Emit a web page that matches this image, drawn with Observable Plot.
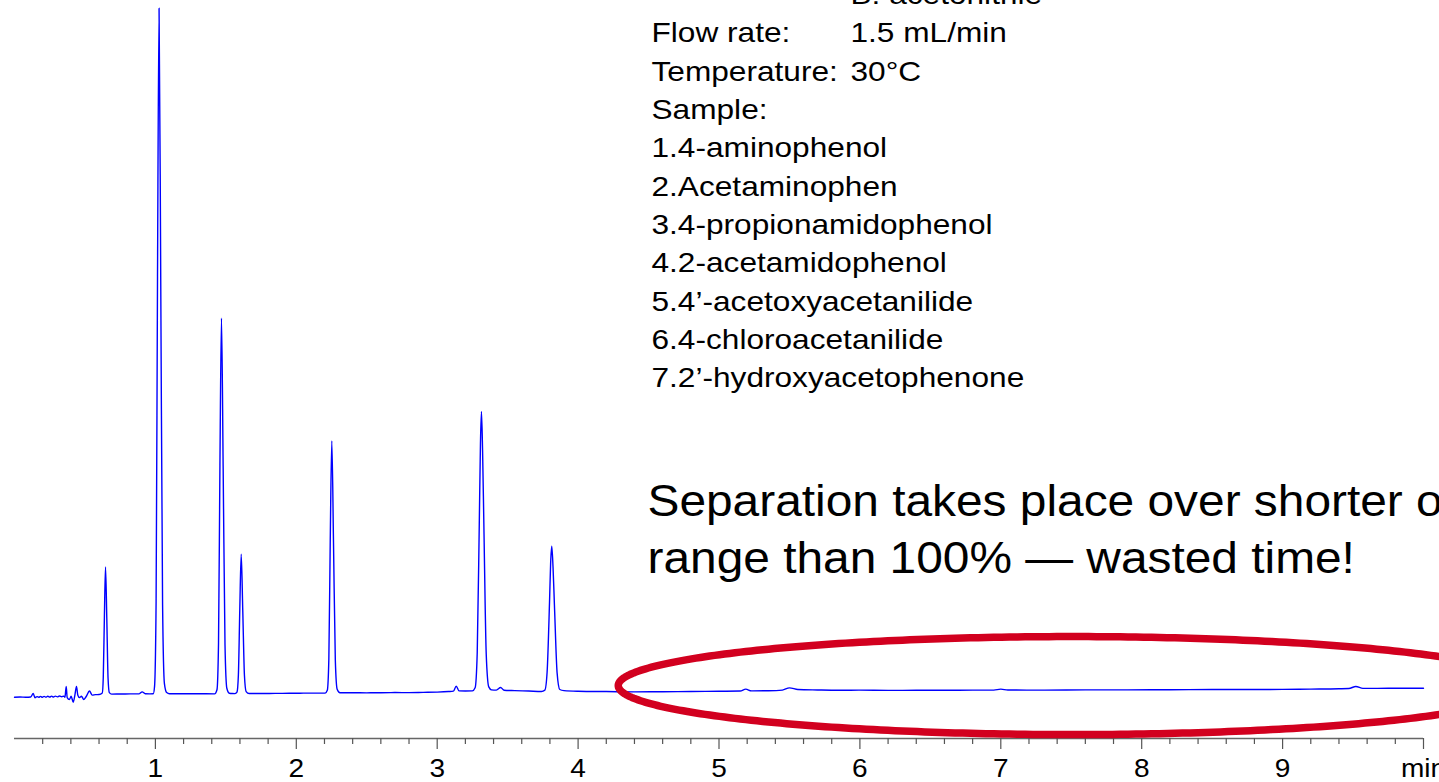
<!DOCTYPE html>
<html>
<head>
<meta charset="utf-8">
<script src="https://cdn.jsdelivr.net/npm/d3@7"></script>
<script src="https://cdn.jsdelivr.net/npm/@observablehq/plot@0.6"></script>
<style>
  html, body { margin: 0; padding: 0; background: #fff; overflow: hidden; }
  #chart svg { display: block; }
</style>
</head>
<body>
<div id="chart"></div>
<script>
// Retention time (min) and detector signal (mAU) of the UV trace
const time = [
  0, 0.04, 0.08, 0.115, 0.133, 0.145, 0.16, 0.172, 0.185, 0.198, 0.21, 0.223, 0.236, 0.25, 0.263, 0.277, 0.29, 0.305, 0.32, 0.335, 0.35,
  0.358, 0.367, 0.374, 0.39, 0.402, 0.417, 0.428, 0.44, 0.449, 0.462, 0.475, 0.492, 0.51, 0.532, 0.552, 0.575, 0.60,
  0.623, 0.630, 0.638, 0.646, 0.655, 0.664, 0.673, 0.69,
  0.75, 0.82, 0.885, 0.906, 0.928, 0.96, 0.985,
  0.994, 1.005, 1.015, 1.026, 1.038, 1.051, 1.064, 1.08, 1.10,
  1.2, 1.3, 1.42,
  1.437, 1.448, 1.458, 1.469, 1.481, 1.494, 1.507, 1.525, 1.545, 1.565,
  1.579, 1.589, 1.599, 1.609, 1.620, 1.632, 1.644, 1.665,
  1.75, 1.85, 1.95, 2.05, 2.15, 2.205,
  2.220, 2.231, 2.241, 2.252, 2.264, 2.277, 2.290, 2.31,
  2.4, 2.5, 2.6, 2.7, 2.8, 2.9, 3.0, 3.08, 3.115, 3.135, 3.155, 3.2, 3.25,
  3.269, 3.284, 3.299, 3.307, 3.314, 3.322, 3.331, 3.348, 3.366, 3.385,
  3.42, 3.45, 3.475, 3.55, 3.65, 3.74,
  3.764, 3.780, 3.797, 3.805, 3.813, 3.822, 3.832, 3.851, 3.870, 3.9,
  4.0, 4.2, 4.4, 4.6, 4.8, 5.0, 5.15, 5.19, 5.23, 5.35, 5.45, 5.5, 5.56, 5.7, 5.85,
  6.0, 6.2, 6.4, 6.6, 6.8, 6.95, 7.0, 7.05, 7.3, 7.6, 7.9, 8.2, 8.5, 8.8,
  9.0, 9.2, 9.4, 9.47, 9.52, 9.57, 9.75, 10.0
];
const signal = [
  -6.5, -6.2, -6.6, -6.2, -0.8, -7.2, -5.6, -6.6, -5.2, -6.6, -5.2, -6.4, -5.0, -6.3, -4.9, -6.2, -4.8, -6.0, -4.6, -5.8, -4.8,
  -6.5, 9.6, -7, -10, -5, -14, -4, 9.6, -3, -7, -5, -10, -5, 2.8, -3.4, -2.6, -2.5,
  -0.3, 23, 114, 189, 112, 22, 0.5, -1.8,
  -1.6, -1.5, -1.4, 1.5, -1.2, -1.4, -1.2,
  9.7, 137, 625, 1027, 615, 132, 14, 0.5, -1.2,
  -1.3, -1.2, -1.4,
  4.8, 75, 342, 562, 336, 72, 7, -0.5, -1.0, -1.1,
  1.1, 27, 126, 208, 124, 26, 1.9, -1.0,
  -1.0, -0.7, -0.6, -0.4, -0.4, -0.3,
  3.9, 51, 230, 378, 226, 49, 5.4, 0.2,
  0.2, 0.1, 0.3, 0.5, 0.4, 0.8, 1.2, 2.0, 2.6, 10, 3.0, 2.8, 3.0,
  7.6, 60, 259, 374, 422, 364, 255, 58, 9, 4.6,
  4.2, 8.1, 4.0, 3.4, 2.8, 2.2,
  4.2, 31, 135, 194, 220, 189, 132, 30, 5.1, 3.4,
  2.5, 2.0, 1.6, 1.8, 2.1, 2.5, 2.8, 5.6, 3.0, 3.2, 4.2, 7.6, 5.0, 4.4, 4.0,
  4.1, 3.8, 3.9, 4.0, 4.1, 4.2, 5.6, 4.3, 4.2, 4.5, 4.6, 4.8, 5.0, 5.1,
  5.3, 5.7, 6.2, 6.6, 9.6, 6.8, 6.9, 7.0
];

// Time axis
const majorTicks = [1, 2, 3, 4, 5, 6, 7, 8, 9, 10];
const tickLabels = ["1", "2", "3", "4", "5", "6", "7", "8", "9", "min"];
const minorTicks = d3.range(1, 50).map(k => k / 5).filter(v => Math.abs(v - Math.round(v)) > 1e-6);

// Method conditions and sample list
const conditionLabels = ["Flow rate:", "Temperature:", "Sample:"];
const conditionValues = ["B: acetonitrile", "1.5 mL/min", "30°C"];
const sampleNames = [
  "1.4-aminophenol",
  "2.Acetaminophen",
  "3.4-propionamidophenol",
  "4.2-acetamidophenol",
  "5.4\u2019-acetoxyacetanilide",
  "6.4-chloroacetanilide",
  "7.2\u2019-hydroxyacetophenone"
];
const noteLines = ["Separation takes place over shorter organic", "range than 100% \u2014 wasted time!"];

// Highlighted idle stretch of the run (ellipse in data units)
const idleWindow = {center: 7.51, halfWidth: 3.225, level: 11, halfHeight: 73.5};

const yFloor = -68.4;
const yTop = 1038.6;

const trace = time.map((t, i) => ({t, v: signal[i]}));
const ring = d3.range(0, 361, 1).map(a => {
  const r = a * Math.PI / 180;
  return {
    t: idleWindow.center + idleWindow.halfWidth * Math.cos(r),
    v: idleWindow.level + idleWindow.halfHeight * Math.sin(r)
  };
});

const fontFamily = "'Liberation Sans', Arial, Helvetica, sans-serif";

const chart = Plot.plot({
  width: 1439,
  height: 782,
  marginLeft: 14,
  marginRight: 16,
  marginTop: 0,
  marginBottom: 44,
  x: {domain: [0, 10]},
  y: {domain: [yFloor, yTop], axis: null},
  style: {fontFamily, background: "white", color: "black"},
  marks: [
    Plot.ruleY([yFloor], {stroke: "#666", strokeWidth: 1.5}),
    Plot.axisX(minorTicks, {tickSize: 6, fill: "none", stroke: "#555", strokeWidth: 1.2}),
    Plot.axisX(majorTicks, {
      tickSize: 11,
      tickPadding: 9.5,
      stroke: "#555",
      strokeWidth: 1.2,
      fill: "black",
      fontSize: 25.5,
      label: null,
      tickFormat: d => tickLabels[majorTicks.indexOf(d)]
    }),
    Plot.line(trace, {x: "t", y: "v", stroke: "#0000ff", strokeWidth: 1.4, curve: "monotone-x"}),
    Plot.line(ring, {x: "t", y: "v", stroke: "#d2001f", strokeWidth: 7.5}),
    Plot.text([conditionValues.join("\n")], {
      text: d => d, frameAnchor: "top-left", textAnchor: "start", lineAnchor: "top",
      dx: 836, dy: -23.6, fontSize: 28, lineHeight: 1.369, fill: "black", className: "wide-small"
    }),
    Plot.text([conditionLabels.concat(sampleNames).join("\n")], {
      text: d => d, frameAnchor: "top-left", textAnchor: "start", lineAnchor: "top",
      dx: 637, dy: 14.7, fontSize: 28, lineHeight: 1.369, fill: "black", className: "wide-small"
    }),
    Plot.text([noteLines.join("\n")], {
      text: d => d, frameAnchor: "top-left", textAnchor: "start", lineAnchor: "top",
      dx: 633, dy: 475.1, fontSize: 43.5, lineHeight: 1.31, fill: "black"
    })
  ]
});

// Slightly widened lettering, as on the original slide
chart.querySelectorAll("text").forEach(el => {
  const inList = el.closest(".wide-small") !== null;
  const tr = el.getAttribute("transform") || "";
  el.setAttribute("transform", (tr + ` scale(${inList ? 1.13 : 1.1},1)`).trim());
});

document.getElementById("chart").appendChild(chart);
</script>
</body>
</html>
